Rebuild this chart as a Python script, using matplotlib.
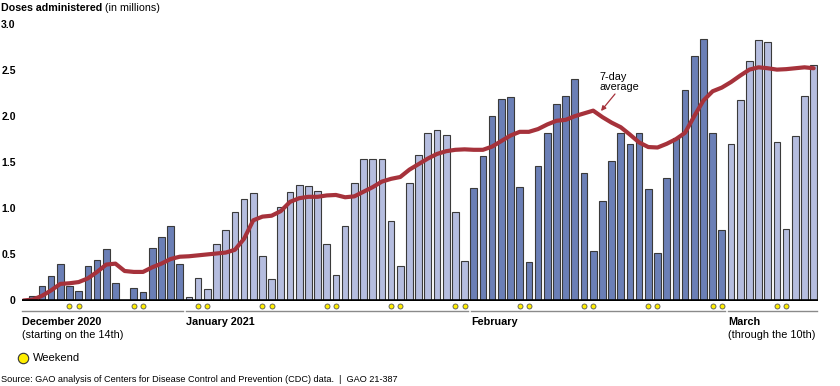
import matplotlib
matplotlib.use("Agg")
import matplotlib.pyplot as plt
import numpy as np
import pandas as pd

plt.rcParams['font.family'] = ['Liberation Sans', 'DejaVu Sans']

# ---- data ----
start_date = "2020-12-14"
end_date = "2021-03-10"

doses = [
    # December 14-31
    0.01, 0.05, 0.157, 0.266, 0.40, 0.16, 0.10, 0.375, 0.44, 0.556, 0.187, 0.0,
    0.133, 0.089, 0.567, 0.69, 0.81, 0.40,
    # January
    0.04, 0.24, 0.12, 0.61, 0.77, 0.96, 1.10, 1.17, 0.48, 0.23, 1.01, 1.18, 1.25,
    1.245, 1.19, 0.61, 0.28, 0.81, 1.27, 1.53, 1.54, 1.54, 0.86, 0.37, 1.28, 1.575,
    1.82, 1.845, 1.80, 0.965, 0.43,
    # February
    1.22, 1.57, 2.00, 2.19, 2.21, 1.23, 0.415, 1.455, 1.82, 2.13, 2.215, 2.40, 1.38,
    0.54, 1.08, 1.51, 1.82, 1.70, 1.82, 1.21, 0.52, 1.33, 1.76, 2.28, 2.65, 2.835,
    1.82, 0.76,
    # March 1-10
    1.70, 2.18, 2.60, 2.83, 2.80, 1.72, 0.78, 1.785, 2.22, 2.55,
]

avg7 = [
    # December 14-31
    0.0, 0.01, 0.05, 0.11, 0.18, 0.187, 0.20, 0.24, 0.31, 0.39, 0.40, 0.32, 0.31,
    0.31, 0.36, 0.40, 0.45, 0.475,
    # January
    0.48, 0.49, 0.50, 0.51, 0.52, 0.55, 0.67, 0.87, 0.91, 0.92, 0.97, 1.07, 1.11,
    1.125, 1.125, 1.14, 1.145, 1.12, 1.13, 1.18, 1.23, 1.29, 1.32, 1.34, 1.42, 1.48,
    1.54, 1.59, 1.62, 1.635, 1.64,
    # February
    1.635, 1.635, 1.67, 1.73, 1.79, 1.83, 1.83, 1.86, 1.91, 1.95, 1.96, 2.00, 2.03,
    2.06, 1.99, 1.93, 1.88, 1.80, 1.715, 1.665, 1.66, 1.70, 1.75, 1.82, 2.00, 2.17,
    2.27, 2.31,
    # March 1-10
    2.37, 2.44, 2.505, 2.53, 2.52, 2.505, 2.51, 2.52, 2.53, 2.52,
]

month_labels = ["December 2020", "January 2021", "February", "March"]
month_sublabels = ["(starting on the 14th)", "", "", "(through the 10th)"]
yticks = [0, 0.5, 1.0, 1.5, 2.0, 2.5, 3.0]
ytick_labels = ["0", "0.5", "1.0", "1.5", "2.0", "2.5", "3.0"]

# ---- styling ----
DARK = "#6b7fb6"
LIGHT = "#b5bddf"
EDGE = "#3a3a3a"
RED = "#a6323b"

dates = pd.date_range(start_date, end_date, freq="D")
x = np.arange(len(dates))
months = dates.month.values
month_order = [12, 1, 2, 3]
colors = [DARK if m in (12, 2) else LIGHT for m in months]

W, H = 840, 386
fig = plt.figure(figsize=(W / 100, H / 100), dpi=100)
ax_left, ax_right = 22, 818
y0_px, y3_px = 300.5, 24
px_per_unit = (y0_px - y3_px) / 3.0
ax = fig.add_axes([ax_left / W, (H - y0_px) / H, (ax_right - ax_left) / W, (y0_px - y3_px) / H])
ax.set_xlim(-0.17, 86.47)
ax.set_ylim(0, 3.0)

ax.bar(x, doses, width=0.73, color=colors, edgecolor=EDGE, linewidth=0.8, zorder=2)
ax.plot(x, avg7, color=RED, lw=3.0, solid_joinstyle="round", solid_capstyle="round", zorder=4)
ax.axhline(0, color="black", lw=2.6, zorder=5)

for s in ax.spines.values():
    s.set_visible(False)
ax.set_xticks([])
ax.set_yticks(yticks)
ax.set_yticklabels(ytick_labels, fontweight="bold", fontsize=7.5)
ax.tick_params(axis="y", length=0, pad=4.5)

# weekend dots
wk = x[dates.dayofweek.values >= 5]
ax.plot(wk, np.full(len(wk), -(306 - y0_px) / px_per_unit), "o", ms=3.6, mfc="#ffee00",
        mec="#555555", mew=0.6, clip_on=False, zorder=6)

# month separator lines and labels
line_y = -(311 - y0_px) / px_per_unit
for i, m in enumerate(month_order):
    idx = x[months == m]
    xs = max(idx[0] - 0.3, -0.17)
    xe = min(idx[-1] + 0.35, 86.47)
    ax.plot([xs, xe], [line_y, line_y], color="#8a8a8a", lw=1.0, clip_on=False)
    ax.text(xs, -(322 - y0_px) / px_per_unit, month_labels[i], fontweight="bold",
            fontsize=7.8, ha="left", va="center")
    if month_sublabels[i]:
        ax.text(xs, -(335 - y0_px) / px_per_unit, month_sublabels[i], fontsize=7.8,
                ha="left", va="center")

# annotation: text and arrow
def px2data(px, py):
    return ax.transData.inverted().transform((px, H - py))

tx, ty = px2data(600, 82)
ax.text(tx, ty, "7-day\naverage", fontsize=7.8, ha="left", va="center", linespacing=1.05)
a0 = px2data(615, 94)
a1 = px2data(601, 111)
ax.annotate("", xy=a1, xytext=a0,
            arrowprops=dict(arrowstyle="-|>", color=RED, lw=0.9, mutation_scale=7,
                            shrinkA=0, shrinkB=0),
            annotation_clip=False)

# title
t1 = fig.text(1 / W, 1 - 8 / H, "Doses administered", fontweight="bold", fontsize=7.7,
              ha="left", va="center")
fig.canvas.draw()
bb = t1.get_window_extent(fig.canvas.get_renderer())
fig.text(bb.x1 / W + 3 / W, 1 - 8 / H, "(in millions)", fontsize=7.7, ha="left", va="center")

# legend
fig.add_artist(plt.Line2D([23 / W], [1 - 358 / H], marker="o", ms=7.5, mfc="#ffee00",
                          mec="#333333", mew=0.8, transform=fig.transFigure))
fig.text(33 / W, 1 - 358 / H, "Weekend", fontsize=8, ha="left", va="center")

# source
fig.text(1 / W, 1 - 380 / H,
         "Source: GAO analysis of Centers for Disease Control and Prevention (CDC) data.  |  GAO 21-387",
         fontsize=6.6, ha="left", va="center")

fig.savefig("out.png", dpi=100)
